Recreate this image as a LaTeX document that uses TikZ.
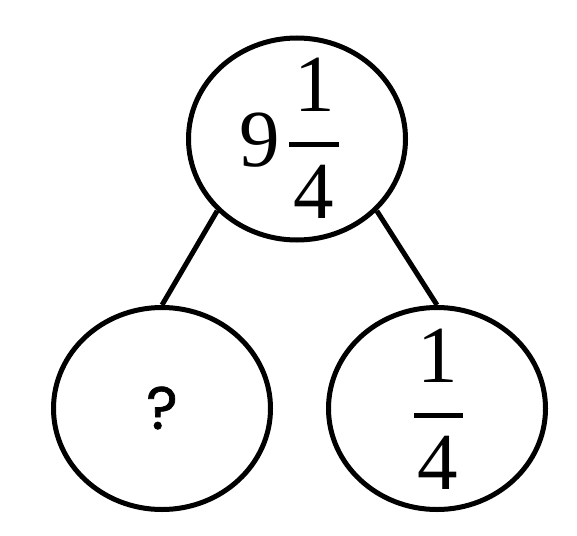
\documentclass[tikz,border=0pt]{standalone}
\usepackage{fontspec}
\setmainfont{Liberation Serif}
\newfontfamily\askfont{Poppins}[FakeBold=1.2]
\usetikzlibrary{shapes.geometric}
\tikzset{
  bubble/.style={draw, ellipse, line width=5pt, minimum width=217pt, minimum height=202pt, inner sep=0pt},
  branch/.style={line width=5pt},
  fracbar/.style={line width=5pt},
  digit/.style={inner sep=0pt, anchor=base, font=\fontsize{81}{90}\selectfont}
}
\begin{document}
\begin{tikzpicture}[x=1pt,y=-1pt]
    \useasboundingbox[fill=white] (0,0) rectangle (577,535);
    \node [bubble] (top) at (297,139) {};
    \node [bubble] (left) at (162,408.5) {};
    \node [bubble] (right) at (437,408.5) {};
    \node [digit] (whole) at (260,166) {9};
    \node [digit] (topnum) at (315,111) {1};
    \node [digit] (topden) at (314,218) {4};
    \draw [fracbar] (289,144.5) -- (339,144.5);
    \node [digit] (rightnum) at (438,382) {1};
    \node [digit] (rightden) at (438,489) {4};
    \draw [fracbar] (414,415) -- (463,415);
    \node [inner sep=0pt, font=\askfont\fontsize{60}{66}\selectfont] (ask) at (162,408) {?};
    \draw [branch] (top.222) -- (left.north);
    \draw [branch] (top.318) -- (right.north);
  \end{tikzpicture}
\end{document}
